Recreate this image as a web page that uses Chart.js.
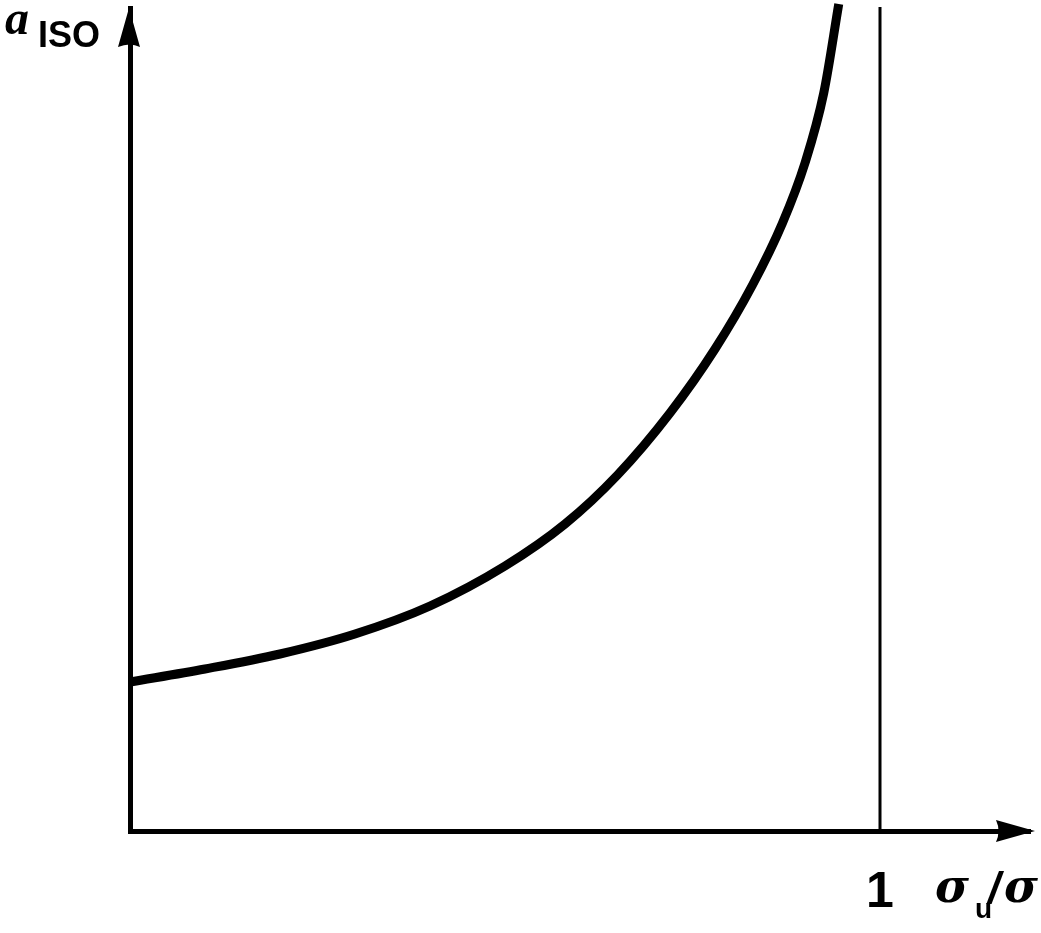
<!DOCTYPE html>
<html>
<head>
<meta charset="utf-8">
<title>a_ISO vs sigma_u/sigma</title>
<script src="https://cdn.jsdelivr.net/npm/chart.js@4"></script>
<style>
  body { margin: 0; background: #fff; }
</style>
</head>
<body>
<canvas id="isoChart" width="1041" height="933"></canvas>
<script>
// stress ratio sigma_u/sigma and a_ISO
const ratioValues = [0, 0.10, 0.20, 0.30, 0.40, 0.50, 0.58, 0.65, 0.72, 0.78, 0.83, 0.87, 0.90, 0.925, 0.945];
const alphaValues = [1.49, 1.62, 1.77, 1.97, 2.25, 2.65, 3.07, 3.56, 4.18, 4.82, 5.46, 6.08, 6.68, 7.38, 8.27];

// asymptote at sigma_u/sigma = 1
const limitX = [1, 1];
const limitY = [0, 8.24];

const xTickLabels = ['1'];

function toPoints(xs, ys) {
    return xs.map(function(x, i) { return { x: x, y: ys[i] }; });
}

const arrowsAndLabels = {
    id: 'arrowsAndLabels',
    afterDraw: function(chart) {
        const ctx = chart.ctx;
        const xs = chart.scales.x;
        const ys = chart.scales.y;
        const x0 = xs.getPixelForValue(0);
        const y0 = ys.getPixelForValue(0);
        const top = chart.chartArea.top;
        const right = chart.chartArea.right;

        ctx.save();
        ctx.fillStyle = '#000';

        // arrow on y axis
        ctx.beginPath();
        ctx.moveTo(x0 - 1, top);
        ctx.lineTo(x0 + 10, top + 39);
        ctx.quadraticCurveTo(x0, top + 34, x0 - 12, top + 39);
        ctx.closePath();
        ctx.fill();

        // arrow on x axis
        ctx.beginPath();
        ctx.moveTo(right + 5, y0);
        ctx.lineTo(right - 34, y0 - 11);
        ctx.quadraticCurveTo(right - 29, y0, right - 34, y0 + 11);
        ctx.closePath();
        ctx.fill();

        // y label: a_ISO
        ctx.textAlign = 'left';
        ctx.textBaseline = 'alphabetic';
        ctx.font = 'italic bold 48px "Liberation Serif"';
        ctx.fillText('a', 5, 34);
        ctx.font = 'bold 36px "Liberation Sans"';
        ctx.fillText('ISO', 38, 47);

        // x tick label
        ctx.textAlign = 'center';
        ctx.font = 'bold 50px "Liberation Sans Narrow", "Liberation Sans"';
        ctx.fillText(xTickLabels[0], xs.getPixelForValue(1), 907);

        // x label: sigma_u / sigma
        ctx.textAlign = 'left';
        ctx.font = 'italic bold 46px "DejaVu Serif"';
        ctx.fillText('σ', 935, 902);
        ctx.font = 'bold 28px "Liberation Sans"';
        ctx.fillText('u', 975, 918);
        ctx.font = 'italic bold 44px "Liberation Sans"';
        ctx.fillText('/', 988, 903);
        ctx.font = 'italic bold 46px "DejaVu Serif"';
        ctx.fillText('σ', 1004, 902);
        ctx.restore();
    }
};

new Chart(document.getElementById('isoChart'), {
    type: 'line',
    data: {
        datasets: [{
            label: 'a_ISO',
            data: toPoints(ratioValues, alphaValues),
            borderColor: '#000',
            borderWidth: 9,
            pointRadius: 0,
            cubicInterpolationMode: 'monotone',
            clip: false
        }, {
            label: 'limit',
            data: toPoints(limitX, limitY),
            borderColor: '#000',
            borderWidth: 3,
            pointRadius: 0,
            clip: false
        }]
    },
    options: {
        responsive: false,
        animation: false,
        layout: {
            padding: { left: 130, right: 11, top: 8, bottom: 102 }
        },
        plugins: {
            legend: { display: false },
            tooltip: { enabled: false }
        },
        scales: {
            x: {
                type: 'linear',
                min: 0,
                max: 1.2,
                grid: { display: false, drawTicks: false },
                ticks: { display: false },
                border: { display: true, color: '#000', width: 5 }
            },
            y: {
                min: 0,
                max: 8.23,
                grid: { display: false, drawTicks: false },
                ticks: { display: false },
                border: { display: true, color: '#000', width: 5 }
            }
        }
    },
    plugins: [arrowsAndLabels]
});
</script>
</body>
</html>
